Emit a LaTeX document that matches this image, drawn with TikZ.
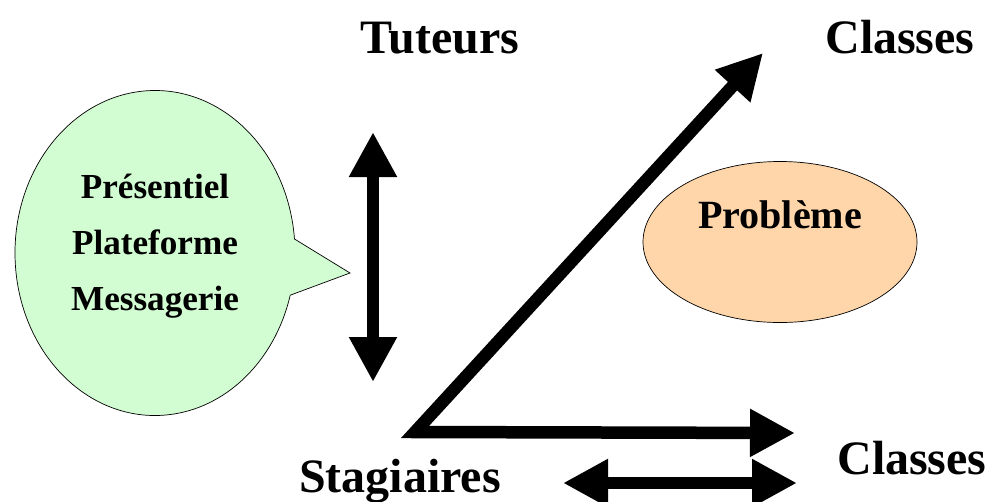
\documentclass[tikz,border=0pt]{standalone}
\usepackage{fontspec}
\setmainfont{Liberation Serif}
\usetikzlibrary{arrows.meta,shapes.geometric,shapes.callouts}
\definecolor{bullevert}{RGB}{210,252,210}
\definecolor{orangepale}{RGB}{255,214,170}
\begin{document}
\begin{tikzpicture}[x=0.2mm,y=-0.2mm]
\tikzset{titre/.style={font=\bfseries\fontsize{27.3}{32}\selectfont, anchor=base, inner sep=0pt},
 dfl/.style={line width=2.5mm, line join=miter,
   {Triangle[length=9mm,width=9mm]}-{Triangle[length=9mm,width=9mm]}}}

\useasboundingbox (0,0) rectangle (991,501);

% Titles
\node[titre] (tut) at (440,53) {Tuteurs};
\node[titre] (clh) at (900,53) {Classes};
\node[titre] (clb) at (912,474) {Classes};
\node[titre] (stg) at (400,492) {Stagiaires};

% Callout
\node[ellipse callout, draw, fill=bullevert, minimum width=5.6cm, minimum height=6.5cm,
 callout absolute pointer={(350,273)}, callout pointer arc=20, align=center,
 font=\bfseries\fontsize{20}{31.9}\selectfont, text depth=0.42cm] (bulle) at (155,253)
 {Présentiel\\Plateforme\\Messagerie};

% Problem
\node[ellipse, draw, fill=orangepale, minimum width=5.48cm, minimum height=3.22cm,
 font=\bfseries\fontsize{22.8}{27}\selectfont, text depth=1.08cm] (prob) at (780,242) {Problème};

% Arrows
\coordinate (coin) at (415,432);
\coordinate (hautC) at (763,53);
\coordinate (basC) at (795,433);
\draw[dfl] (hautC) -- (coin) -- (basC);

\coordinate (tutH) at (373,132);
\coordinate (tutB) at (373,382);
\draw[dfl] (tutH) -- (tutB);

\coordinate (stgG) at (563,483);
\coordinate (stgD) at (797,483);
\draw[dfl] (stgG) -- (stgD);

\end{tikzpicture}
\end{document}
